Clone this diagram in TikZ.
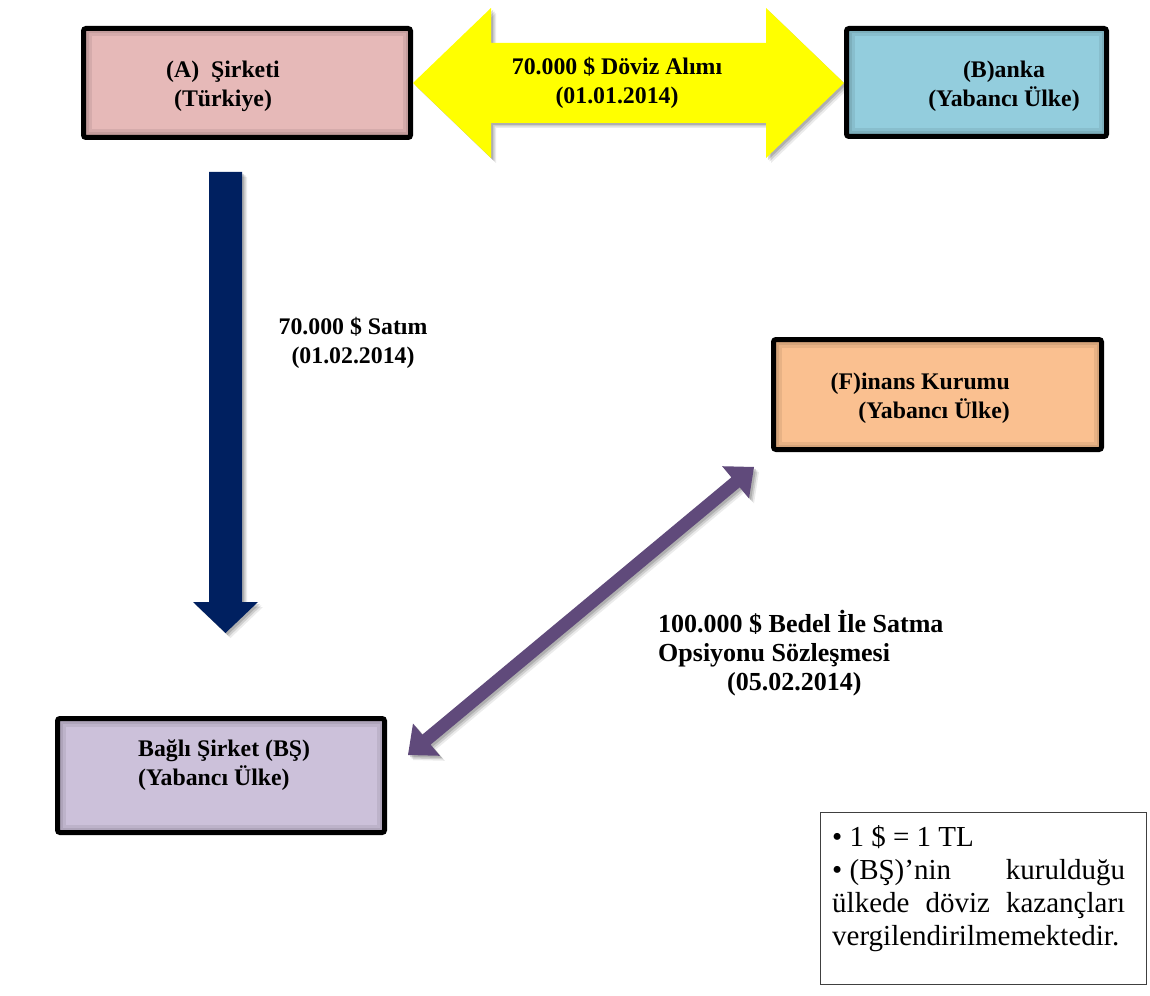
\documentclass[tikz,border=0pt]{standalone}
\usepackage{fontspec}
\setmainfont{Liberation Serif}
\usetikzlibrary{calc,shadows}

\definecolor{boxA}{HTML}{E6B9B8}
\definecolor{boxB}{HTML}{93CDDD}
\definecolor{boxF}{HTML}{FAC090}
\definecolor{boxBS}{HTML}{CCC1DA}
\definecolor{navyblue}{HTML}{002060}
\definecolor{plum}{HTML}{604A7B}
\definecolor{brightyellow}{HTML}{FFFF00}

% double-headed block arrow from #1 to #2:
% #3 shaft half width, #4 head half width, #5 head length, #6 style
\newcommand\fatarrow[6]{%
  \coordinate (fa1) at ($(#1)!#5!(#2)$);
  \coordinate (fa2) at ($(#2)!#5!(#1)$);
  \fill[#6] (#1) -- ($(fa1)!#4!90:(#2)$) -- ($(fa1)!#3!90:(#2)$)
    -- ($(fa2)!#3!-90:(#1)$) -- ($(fa2)!#4!-90:(#1)$) -- (#2)
    -- ($(fa2)!#4!90:(#1)$) -- ($(fa2)!#3!90:(#1)$)
    -- ($(fa1)!#3!-90:(#2)$) -- ($(fa1)!#4!-90:(#2)$) -- cycle;}

% darker band along the inside of a box border
\newcommand\innershade[1]{%
  \begin{scope}
    \clip[rounded corners=2.5pt] (#1.south west) rectangle (#1.north east);
    \draw[black, opacity=.07, line width=16pt] (#1.south west) rectangle (#1.north east);
    \draw[black, opacity=.08, line width=10pt] (#1.south west) rectangle (#1.north east);
  \end{scope}}

\begin{document}
\begin{tikzpicture}[x=1pt,y=-1pt,
  entity/.style={draw=black, line width=5pt, rounded corners=2.5pt,
    inner sep=0pt, outer sep=0pt,
    drop shadow={shadow xshift=2pt, shadow yshift=-2pt, opacity=.25}},
  softshadow/.style={
    drop shadow={shadow xshift=5pt, shadow yshift=-5pt, opacity=.08, fill=black},
    drop shadow={shadow xshift=3.5pt, shadow yshift=-3.5pt, opacity=.12, fill=black},
    drop shadow={shadow xshift=2pt, shadow yshift=-2pt, opacity=.15, fill=black}},
  lbl/.style={font=\fontsize{23.8}{29}\selectfont\bfseries, inner sep=0pt},
  biglbl/.style={font=\fontsize{26}{29}\selectfont\bfseries, inner sep=0pt},
  notefont/.style={font=\fontsize{29}{33}\selectfont, inner sep=0pt}]

\useasboundingbox (0,0) rectangle (1150,995);
\fill[white] (0,0) rectangle (1150,995);

% parties
\node[entity, fill=boxA,  minimum width=327pt, minimum height=109pt] (A)  at (247,83) {};
\node[entity, fill=boxB,  minimum width=260pt, minimum height=108pt] (B)  at (976.5,82.5) {};
\node[entity, fill=boxF,  minimum width=328pt, minimum height=110pt] (F)  at (937.5,394.5) {};
\node[entity, fill=boxBS, minimum width=327pt, minimum height=114pt] (BS) at (221,775.5) {};
\innershade{A}
\innershade{B}
\innershade{F}
\innershade{BS}

% yellow exchange arrow between A and B
\coordinate (yl) at ($(A.east)+(2.5,0)$);
\coordinate (yr) at ($(B.west |- yl)+(-2.5,0)$);
\fatarrow{yl}{yr}{40pt}{75pt}{78pt}{brightyellow, softshadow}

% navy arrow from A down to BS
\coordinate (navyTop) at (225.5,172);
\coordinate (navyTip) at (225.5,633);
\fill[navyblue, softshadow] ($(navyTop)+(-16.5,0)$) -- ($(navyTop)+(16.5,0)$)
  -- ($(navyTip)+(16.5,-31)$) -- ($(navyTip)+(32.5,-31)$) -- (navyTip)
  -- ($(navyTip)+(-32.5,-31)$) -- ($(navyTip)+(-16.5,-31)$) -- cycle;

% purple option arrow between BS and F
\coordinate (pl) at (408,755);
\coordinate (pr) at (754,467);
\fatarrow{pl}{pr}{6.5pt}{21pt}{24pt}{plum, softshadow}

% texts (a multi-line node's base is the baseline of its last line)
\node[lbl, align=center, anchor=base] (At) at (223,107) {(A)\ \ Şirketi\\(Türkiye)};
\node[lbl, align=center, anchor=base] (Bt) at (1004,107) {(B)anka\\(Yabancı Ülke)};
\node[lbl, align=right, anchor=base east] (Ft) at (1010,418) {(F)inans Kurumu\\(Yabancı Ülke)};
\node[lbl, align=left, anchor=base west] (BSt) at (138,785) {Bağlı Şirket (BŞ)\\(Yabancı Ülke)};
\node[lbl, align=center, anchor=base] (Yt) at (617,104) {70.000 \$ Döviz Alımı\\(01.01.2014)};
\node[lbl, align=center, anchor=base] (St) at (353,363) {70.000 \$ Satım\\(01.02.2014)};
\node[biglbl, align=left, anchor=base west] (Ot) at (658,690)
  {100.000 \$ Bedel İle Satma\\Opsiyonu Sözleşmesi\\\hspace*{69pt}(05.02.2014)};

% assumptions box
\node[draw=black!75, line width=1pt, minimum width=326pt, minimum height=172pt] (note) at (983.5,898.5) {};
\node[notefont, align=left, anchor=base west] (notetext) at (832,945)
  {\hbox to 293pt{• 1 \$ = 1 TL\hfill}\\
   \hbox to 293pt{• (BŞ)’nin\hfill kurulduğu}\\
   \hbox to 293pt{ülkede\hfill döviz\hfill kazançları}\\
   \hbox to 293pt{vergilendirilmemektedir.\hfill}};
\end{tikzpicture}
\end{document}
